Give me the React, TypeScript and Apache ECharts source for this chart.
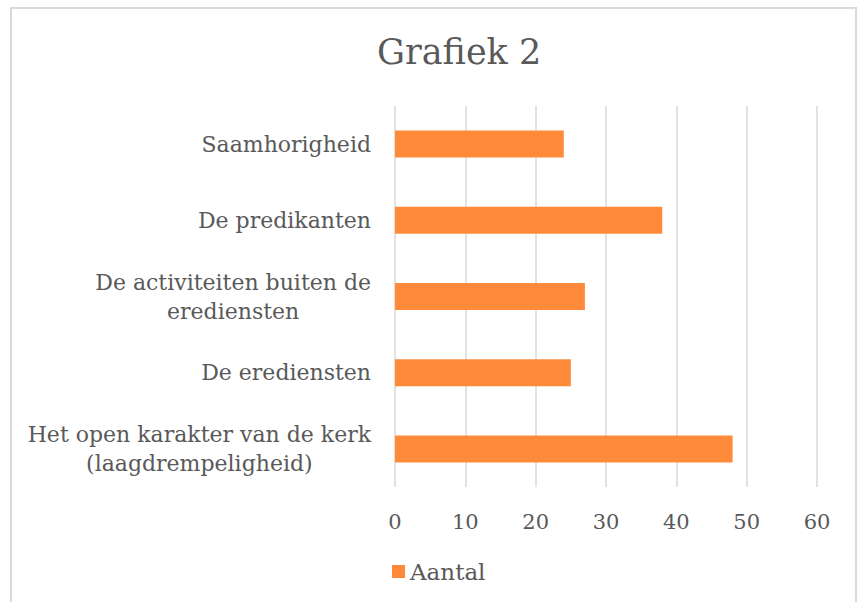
import React, { useEffect, useRef } from "react";
import * as echarts from "echarts";

const categories = [
  "Het open karakter van de kerk\n(laagdrempeligheid)",
  "De erediensten",
  "De activiteiten buiten de\nerediensten",
  "De predikanten",
  "Saamhorigheid",
];
const seriesName = "Aantal";
const values = [48, 25, 27, 38, 24];
const xTicks = { min: 0, max: 60, interval: 10 };

const FONT = "'DejaVu Serif', serif";
const TEXT = "#595959";

export default function App() {
  const ref = useRef<HTMLDivElement>(null);
  useEffect(() => {
    document.body.style.margin = "0";
    const chart = echarts.init(ref.current!, null, { renderer: "svg" });
    chart.setOption({
      animation: false,
      backgroundColor: "#ffffff",
      title: {
        text: "Grafiek 2",
        left: 372,
        top: 29,
        textStyle: { fontFamily: FONT, fontSize: 35, fontWeight: "normal", color: TEXT },
      },
      graphic: [
        {
          type: "rect",
          shape: { x: 11, y: 8, width: 845, height: 640 },
          style: { fill: "none", stroke: "#dadada", lineWidth: 2 },
          silent: true,
        },
      ],
      legend: {
        bottom: 14,
        left: 387,
        itemWidth: 13,
        itemHeight: 13,
        itemGap: 6,
        icon: "rect",
        textStyle: { fontFamily: FONT, fontSize: 23, color: TEXT },
        data: [seriesName],
      },
      grid: { left: 395, right: 45, top: 106, bottom: 115, containLabel: false },
      xAxis: {
        type: "value",
        min: xTicks.min,
        max: xTicks.max,
        interval: xTicks.interval,
        axisLine: { show: false },
        axisTick: { show: false },
        splitLine: { show: true, lineStyle: { color: "#d9d9d9", width: 1.5 } },
        axisLabel: { fontFamily: FONT, fontSize: 21, color: TEXT, margin: 24 },
      },
      yAxis: {
        type: "category",
        data: categories,
        axisLine: { show: false },
        axisTick: { show: false },
        axisLabel: {
          fontFamily: FONT,
          fontSize: 22,
          color: TEXT,
          margin: 24,
          align: "right",
          lineHeight: 29,
          formatter: (v: string) =>
            v
              .split("\n")
              .map((line) => "{c|" + line + "}")
              .join("\n"),
          rich: {
            c: {
              fontFamily: FONT,
              fontSize: 22,
              color: TEXT,
              lineHeight: 29,
              align: "center",
            },
          },
        },
      },
      series: [
        {
          name: seriesName,
          type: "bar",
          data: values,
          barWidth: 27,
          itemStyle: { color: "#FF8B3A" },
        },
      ],
    });
    return () => chart.dispose();
  }, []);
  return <div ref={ref} style={{ width: 862, height: 602 }} />;
}
